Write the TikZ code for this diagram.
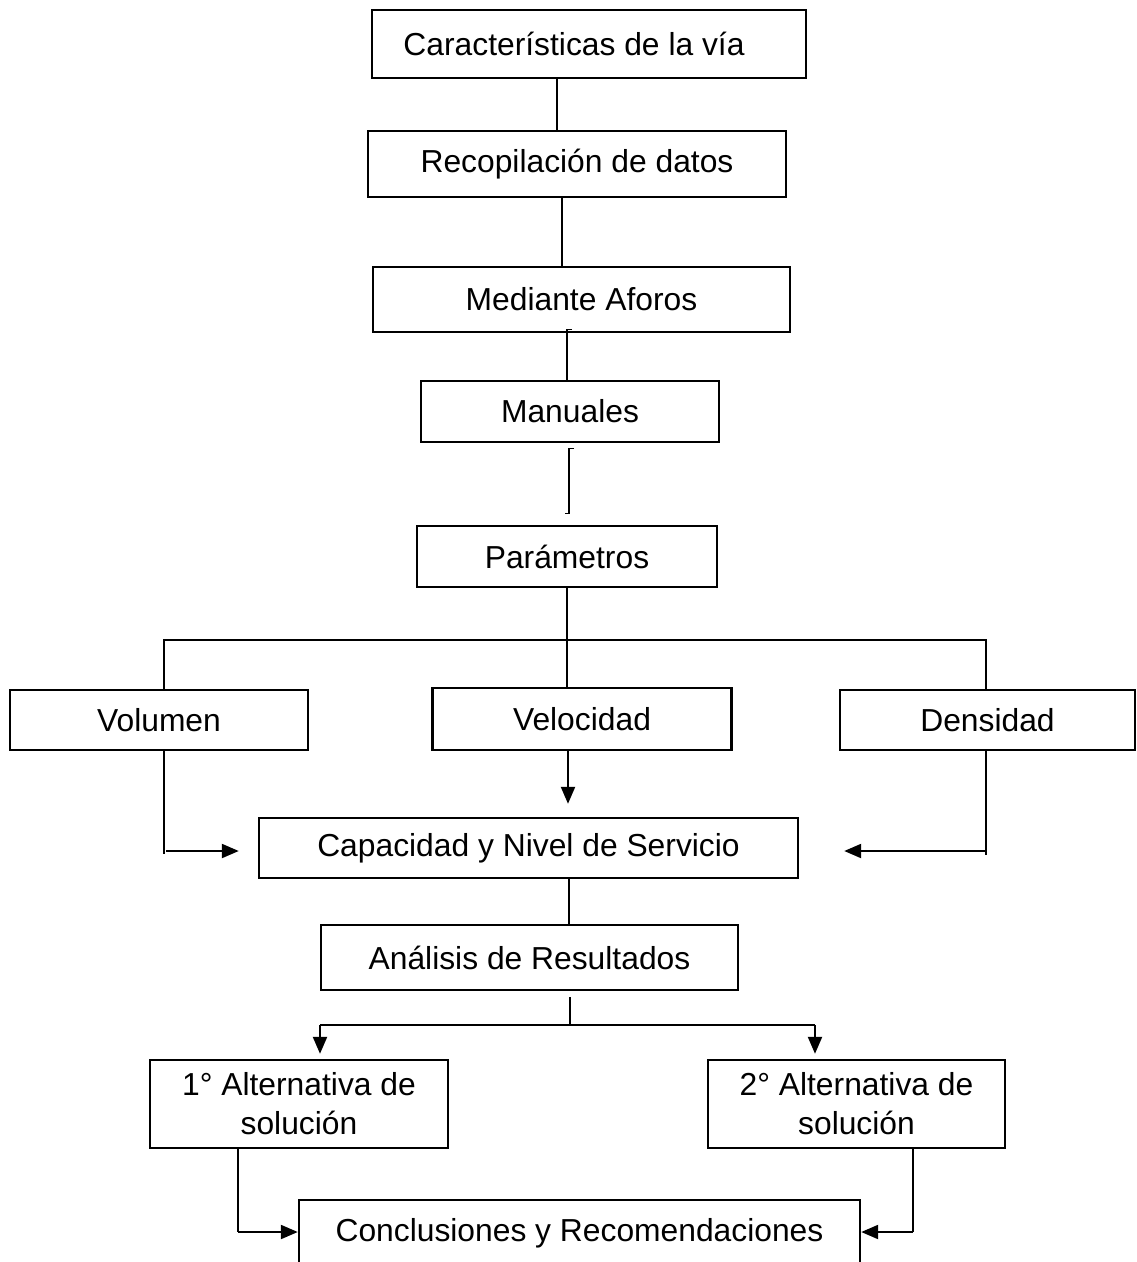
\documentclass[tikz,border=0pt]{standalone}
\usepackage{fontspec}
\setmainfont{Liberation Sans}
\usetikzlibrary{arrows.meta,calc}
\begin{document}
\begin{tikzpicture}[x=1pt,y=-1pt,
  box/.style={draw,line width=2.4pt,inner sep=0pt,font=\fontsize{31.8}{39}\selectfont,align=center},
  conn/.style={line width=1.3pt},
  arr/.style={line width=2.2pt,-{Triangle[length=17pt,width=14pt]}}]
\useasboundingbox (0,0) rectangle (1137,1262);
% boxes
\node[box,minimum width=434pt,minimum height=68pt] (car) at (589,44) {Características de la vía\hspace*{30pt}};
\node[box,minimum width=418pt,minimum height=66pt] (rec) at (577,164) {Recopilación de datos};
\node[box,minimum width=417pt,minimum height=65pt] (med) at (581.5,299.5) {Mediante Aforos};
\node[box,minimum width=298pt,minimum height=61pt] (man) at (570,411.5) {Manuales};
\node[box,minimum width=300pt,minimum height=61pt] (par) at (567,556.5) {Parámetros};
\node[box,minimum width=298pt,minimum height=60pt] (vol) at (159,720) {Volumen};
\node[box,minimum width=299pt,minimum height=62pt] (vel) at (582,719) {Velocidad};
\node[box,minimum width=295pt,minimum height=60pt] (den) at (987.5,720) {Densidad};
\node[box,minimum width=539pt,minimum height=60pt] (cap) at (528.5,848) {Capacidad y Nivel de Servicio};
\node[box,minimum width=417pt,minimum height=65pt] (ana) at (529.5,957.5) {Análisis de Resultados};
\node[box,minimum width=298pt,minimum height=88pt] (alt1) at (299,1104) {1° Alternativa de\\solución};
\node[box,minimum width=297pt,minimum height=88pt] (alt2) at (856.5,1104) {2° Alternativa de\\solución};
\node[box,minimum width=561pt,minimum height=66pt] (con) at (579.5,1233) {Conclusiones y Recomendaciones};
% columns and rows
\coordinate (xa) at (557,0);
\coordinate (xb) at (562,0);
\coordinate (xc) at (567,0);
\coordinate (xd) at (569,0);
\coordinate (xv) at (568,0);
\coordinate (xl) at (164,0);
\coordinate (xr) at (986,0);
\coordinate (xe) at (570,0);
\coordinate (x1) at (320,0);
\coordinate (x2) at (815,0);
\coordinate (xL) at (238,0);
\coordinate (xR) at (913,0);
\coordinate (yb) at (0,640);
\coordinate (ya) at (0,851);
\coordinate (yc) at (0,1025);
\coordinate (yd) at (0,1232);
% connectors
\draw[conn] (car.south -| xa) -- (rec.north -| xa);
\draw[conn] (rec.south -| xb) -- (med.north -| xb);
\draw[conn] ($(med.south -| xc)+(5,-4)$) -- ++(-5,0) -- (man.north -| xc);
\draw[conn] ($(man.south -| xd)+(5,5)$) -- ++(-5,0) -- ($(par.north -| xd)+(0,-11)$) -- ++(-4,0);
\draw[conn] (par.south -| xc) -- (vel.north -| xc);
\draw[conn] (vol.north -| xl) -- (xl |- yb) -- (xr |- yb) -- (den.north -| xr);
\draw[conn] (vol.south -| xl) -- ($(xl |- ya)+(0,3)$);
\draw[arr] ($(xl |- ya)+(2,0)$) -- ($(cap.west |- ya)+(-19,0)$);
\draw[arr] (vel.south -| xv) -- ($(cap.north -| xv)+(0,-13)$);
\draw[conn] (den.south -| xr) -- ($(xr |- ya)+(0,4)$);
\draw[arr] (xr |- ya) -- ($(cap.east |- ya)+(45,0)$);
\draw[conn] (cap.south -| xd) -- (ana.north -| xd);
\draw[conn] ($(ana.south -| xe)+(0,6)$) -- (xe |- yc);
\draw[conn] (x1 |- yc) -- (x2 |- yc);
\draw[arr] (x1 |- yc) -- ($(alt1.north -| x1)+(0,-5)$);
\draw[arr] (x2 |- yc) -- ($(alt2.north -| x2)+(0,-5)$);
\draw[conn] (alt1.south -| xL) -- (xL |- yd);
\draw[arr] (xL |- yd) -- (con.west |- yd);
\draw[conn] (alt2.south -| xR) -- (xR |- yd);
\draw[arr] (xR |- yd) -- (con.east |- yd);
\end{tikzpicture}
\end{document}
